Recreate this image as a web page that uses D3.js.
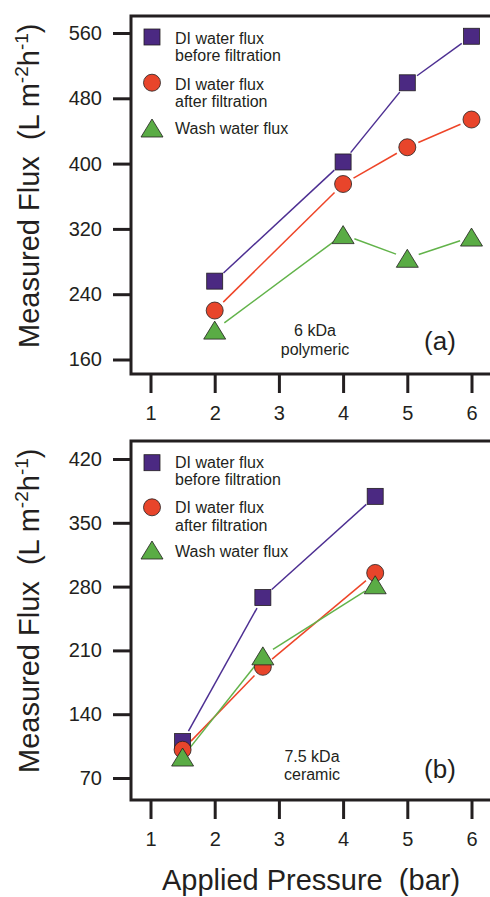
<!DOCTYPE html>
<html><head><meta charset="utf-8">
<script src="https://cdn.jsdelivr.net/npm/d3@7/dist/d3.min.js"></script>
<style>
body{margin:0;background:#fff;}
svg text{font-family:"Liberation Sans",Arial,sans-serif;fill:#231f20;}
</style></head><body>
<svg id="c" width="490" height="897"></svg>
<script>
// ---- data ----
const xTicks = [1,2,3,4,5,6];
const yTicksA = [160,240,320,400,480,560];
const yTicksB = [70,140,210,280,350,420];
const seriesNames = ["DI water flux|before filtration","DI water flux|after filtration","Wash water flux"];

const pressureA = [2,4,5,6];
const beforeA = [256,402,499,556];
const afterA  = [220,375,420,454];
const washA   = [196,313,284,310];

const pressureB = [1.5,2.75,4.5];
const beforeB = [110,268,379];
const afterB  = [101,192,295];
const washB   = [93,204,282];

const colors = {sq:"#4b2982", ci:"#e8452b", tr:"#5aac45"};
const lineColors = {sq:"#4d2f92", ci:"#ee4528", tr:"#62b34a"};

const svg = d3.select("#c");

function panel(cfg){
  const x = d3.scaleLinear().domain([1,6]).range([150.5,471.5]);
  const y = d3.scaleLinear().domain(cfg.ydom).range(cfg.yrange);
  const g = svg.append("g");
  // frame
  g.append("rect").attr("x",131).attr("y",cfg.top).attr("width",370).attr("height",cfg.bottom-cfg.top)
   .attr("fill","none").attr("stroke","#231f20").attr("stroke-width",3);
  // y axis
  const ya = g.append("g").attr("transform","translate(131,0)")
    .call(d3.axisLeft(y).tickValues(cfg.yticks).tickSize(18).tickPadding(11).tickFormat(d3.format("d")));
  ya.select(".domain").remove();
  ya.selectAll("line").attr("stroke","#231f20").attr("stroke-width",3);
  ya.selectAll("text").attr("font-size",20).style("fill","#231f20");
  // x axis
  const xa = g.append("g").attr("transform",`translate(0,${cfg.bottom})`)
    .call(d3.axisBottom(x).tickValues(xTicks).tickSize(19).tickPadding(13).tickFormat(d3.format("d")));
  xa.select(".domain").remove();
  xa.selectAll("line").attr("stroke","#231f20").attr("stroke-width",3);
  xa.selectAll("text").attr("font-size",20).style("fill","#231f20");
  // y title
  const t = g.append("text").attr("transform",`translate(39,${cfg.titleY}) rotate(-90)`)
    .attr("font-size",29).style("white-space","pre");
  t.append("tspan").text("Measured Flux  (L m");
  t.append("tspan").attr("font-size",19).attr("dy",-11).text("-2");
  t.append("tspan").attr("dy",11).text("h");
  t.append("tspan").attr("font-size",19).attr("dy",-11).text("-1");
  t.append("tspan").attr("dy",11).text(")");

  // lines with gaps near markers
  const gap = 12;
  const series = [
    {k:"sq", v:cfg.before},
    {k:"ci", v:cfg.after},
    {k:"tr", v:cfg.wash}
  ];
  series.forEach(s=>{
    const pts = cfg.px.map((p,i)=>[x(p),y(s.v[i])]);
    for(let i=0;i<pts.length-1;i++){
      const [x1,y1]=pts[i],[x2,y2]=pts[i+1];
      const L=Math.hypot(x2-x1,y2-y1);
      const ux=(x2-x1)/L, uy=(y2-y1)/L;
      g.append("line").attr("x1",x1+ux*gap).attr("y1",y1+uy*gap)
        .attr("x2",x2-ux*gap).attr("y2",y2-uy*gap)
        .attr("stroke",lineColors[s.k]).attr("stroke-width",1.5);
    }
  });
  series.forEach(s=>{
    cfg.px.forEach((p,i)=>marker(g,s.k,x(p),y(s.v[i])));
  });

  // legend
  cfg.legend.forEach((L,i)=>{
    marker(g,L.k,152,L.my);
    const lines = seriesNames[i].split("|");
    lines.forEach((ln,j)=>{
      g.append("text").attr("x",175).attr("y",L.ty+j*17.5).attr("font-size",16).text(ln);
    });
  });
  // annotations
  cfg.note.forEach((n,j)=>g.append("text").attr("x",cfg.noteX).attr("y",cfg.noteY+j*18.5)
     .attr("text-anchor","middle").attr("font-size",16).text(n));
  g.append("text").attr("x",440).attr("y",cfg.labY).attr("text-anchor","middle").attr("font-size",26).text(cfg.lab);
}

function marker(g,k,cx,cy){
  if(k==="sq"){
    g.append("rect").attr("x",cx-8).attr("y",cy-8).attr("width",16).attr("height",16)
      .attr("fill",colors.sq).attr("stroke","#231f20").attr("stroke-width",0.8);
  } else if(k==="ci"){
    g.append("circle").attr("cx",cx).attr("cy",cy).attr("r",8.5)
      .attr("fill",colors.ci).attr("stroke","#231f20").attr("stroke-width",0.8);
  } else {
    const w=11, h=9;
    g.append("path").attr("d",`M${cx},${cy-h}L${cx+w},${cy+h}L${cx-w},${cy+h}Z`)
      .attr("fill",colors.tr).attr("stroke","#231f20").attr("stroke-width",0.8);
  }
}

panel({top:16,bottom:374,ydom:[160,560],yrange:[359.5,33],yticks:yTicksA,titleY:348,
  px:pressureA,before:beforeA,after:afterA,wash:washA,
  legend:[{k:"sq",my:37,ty:43.5},{k:"ci",my:82.7,ty:89.5},{k:"tr",my:128,ty:133.5}],
  note:["6 kDa","polymeric"],noteX:315,noteY:336,lab:"(a)",labY:350});

panel({top:441,bottom:800,ydom:[70,420],yrange:[778,459],yticks:yTicksB,titleY:773,
  px:pressureB,before:beforeB,after:afterB,wash:washB,
  legend:[{k:"sq",my:462.7,ty:467.8},{k:"ci",my:507.3,ty:513},{k:"tr",my:550,ty:557}],
  note:["7.5 kDa","ceramic"],noteX:312,noteY:761.5,lab:"(b)",labY:778});

svg.append("text").attr("x",311).attr("y",890).attr("text-anchor","middle")
  .attr("font-size",29).style("white-space","pre").text("Applied Pressure  (bar)");
</script></body></html>
